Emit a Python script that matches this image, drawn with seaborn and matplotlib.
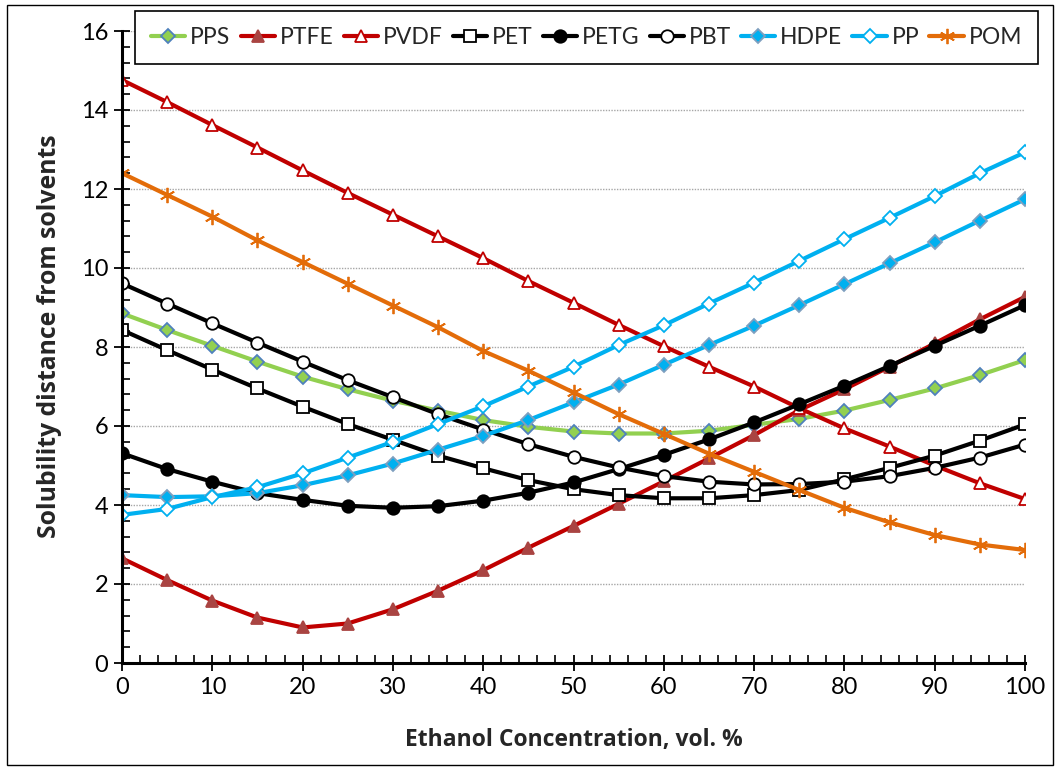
import numpy as np
import pandas as pd
import matplotlib
matplotlib.use('Agg')
import matplotlib.pyplot as plt
import seaborn as sns
from matplotlib.ticker import MultipleLocator
from matplotlib.patches import Rectangle

ethanol = [0, 5, 10, 15, 20, 25, 30, 35, 40, 45, 50, 55, 60, 65, 70, 75, 80, 85, 90, 95, 100]

pps  = [8.85, 8.43, 8.03, 7.63, 7.25, 6.93, 6.64, 6.39, 6.15, 5.98, 5.86, 5.81, 5.81, 5.88, 6.03, 6.18, 6.39, 6.66, 6.95, 7.29, 7.67]
ptfe = [2.65, 2.10, 1.58, 1.15, 0.90, 1.00, 1.36, 1.83, 2.35, 2.92, 3.47, 4.03, 4.60, 5.18, 5.77, 6.40, 6.93, 7.50, 8.09, 8.70, 9.27]
pvdf = [14.76, 14.20, 13.62, 13.05, 12.47, 11.90, 11.35, 10.80, 10.25, 9.67, 9.12, 8.56, 8.02, 7.50, 7.00, 6.45, 5.94, 5.48, 5.00, 4.55, 4.15]
pet  = [8.43, 7.92, 7.43, 6.95, 6.49, 6.05, 5.65, 5.25, 4.93, 4.63, 4.40, 4.25, 4.17, 4.17, 4.25, 4.38, 4.65, 4.94, 5.25, 5.63, 6.04]
petg = [5.31, 4.91, 4.59, 4.30, 4.13, 3.98, 3.93, 3.97, 4.11, 4.31, 4.57, 4.91, 5.27, 5.66, 6.09, 6.55, 7.02, 7.52, 8.03, 8.54, 9.06]
pbt  = [9.61, 9.10, 8.60, 8.11, 7.63, 7.16, 6.73, 6.30, 5.91, 5.54, 5.22, 4.95, 4.73, 4.59, 4.52, 4.53, 4.59, 4.73, 4.94, 5.20, 5.53]
hdpe = [4.25, 4.20, 4.22, 4.30, 4.50, 4.75, 5.05, 5.40, 5.75, 6.15, 6.60, 7.05, 7.55, 8.05, 8.54, 9.06, 9.59, 10.12, 10.65, 11.20, 11.74]
pp   = [3.75, 3.90, 4.20, 4.45, 4.80, 5.20, 5.60, 6.05, 6.50, 7.00, 7.50, 8.05, 8.55, 9.10, 9.63, 10.18, 10.73, 11.27, 11.82, 12.40, 12.93]
pom  = [12.40, 11.85, 11.30, 10.70, 10.15, 9.60, 9.05, 8.50, 7.90, 7.40, 6.85, 6.30, 5.80, 5.30, 4.84, 4.38, 3.93, 3.56, 3.24, 3.00, 2.86]

names = ['PPS', 'PTFE', 'PVDF', 'PET', 'PETG', 'PBT', 'HDPE', 'PP', 'POM']
series = [pps, ptfe, pvdf, pet, petg, pbt, hdpe, pp, pom]

# line colour, marker, face, edge, size
styles = {
    'PPS':  ('#92D050', 'D', '#92D050', '#4F81BD', 7),
    'PTFE': ('#C00000', '^', '#A94442', '#A94442', 9),
    'PVDF': ('#C00000', '^', 'white', '#C00000', 9),
    'PET':  ('black', 's', 'white', 'black', 9),
    'PETG': ('black', 'o', 'black', 'black', 9),
    'PBT':  ('black', 'o', 'white', 'black', 9),
    'HDPE': ('#00B0F0', 'D', '#00B0F0', '#7F9FBF', 7),
    'PP':   ('#00B0F0', 'D', 'white', '#00B0F0', 7),
    'POM':  ('#E36C09', (6, 2, 0), '#E36C09', '#E36C09', 11),
}

sns.set_style('white')
plt.rcParams['font.family'] = ['Lato', 'DejaVu Sans']

fig = plt.figure(figsize=(10.61, 7.70), dpi=100)
ax = fig.add_axes([122/1061, 1-663/770, (1025-122)/1061, (663-31)/770])

for name, vals in zip(names, series):
    lc, mk, fc, ec, ms = styles[name]
    sns.lineplot(x=ethanol, y=vals, ax=ax, color=lc, linewidth=3,
                 marker=mk, markerfacecolor=fc, markeredgecolor=ec,
                 markeredgewidth=1.3, markersize=ms, label=name)

ax.set_xlim(0, 100)
ax.set_ylim(0, 16)
ax.xaxis.set_major_locator(MultipleLocator(10))
ax.xaxis.set_minor_locator(MultipleLocator(2))
ax.yaxis.set_major_locator(MultipleLocator(2))
ax.yaxis.set_minor_locator(MultipleLocator(0.4))
ax.tick_params(which='major', direction='inout', length=12, width=1.3, labelsize=17, pad=4, colors='black')
ax.tick_params(which='minor', direction='in', length=6, width=1.2, colors='black')
ax.tick_params(axis='y', which='both', left=True)
ax.tick_params(axis='x', which='both', bottom=True)
ax.grid(axis='y', which='major', color='#A6A6A6', linestyle=(0, (1, 1)), linewidth=1)
ax.set_axisbelow(True)

for s in ['top', 'right']:
    ax.spines[s].set_visible(False)
for s in ['left', 'bottom']:
    ax.spines[s].set_color('black')
    ax.spines[s].set_linewidth(2.2)

ax.set_xlabel('Ethanol Concentration, vol. %', fontsize=16.5, fontweight='bold',
              family=['Open Sans', 'DejaVu Sans'])
ax.set_ylabel('Solubility distance from solvents', fontsize=17.8, fontweight='bold',
              family=['Open Sans', 'DejaVu Sans'])
ax.xaxis.set_label_coords(0.5, -0.103)
ax.yaxis.set_label_coords(-0.066, 0.517)

leg = ax.legend(ncol=9, loc='upper left', bbox_to_anchor=(135/1061, 1-11/770),
                bbox_transform=fig.transFigure, frameon=True, fancybox=False,
                fontsize=16.5, handlelength=1.5, handletextpad=0.2, columnspacing=0.45,
                borderpad=0.7, borderaxespad=0)
leg.get_frame().set_edgecolor('black')
leg.get_frame().set_linewidth(1.2)
leg.get_frame().set_alpha(1)

fig.patches.append(Rectangle((7/1061, 1-765/770), (1053-7)/1061, (765-5)/770,
                             transform=fig.transFigure, fill=False, edgecolor='black', linewidth=1))

fig.savefig('out.png', dpi=100)
